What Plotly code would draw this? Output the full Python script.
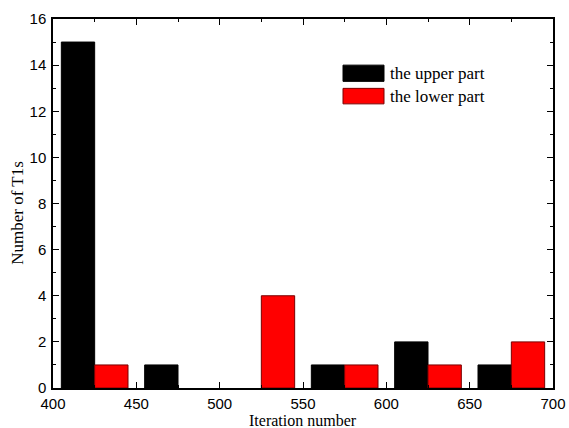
import plotly.graph_objects as go

# Data
bin_centers = [425, 475, 525, 575, 625, 675]
upper_part = [15, 1, 0, 1, 2, 1]
lower_part = [1, 0, 4, 1, 1, 2]
series_names = ["the upper part", "the lower part"]
x_ticks = [400, 450, 500, 550, 600, 650, 700]
y_ticks = [0, 2, 4, 6, 8, 10, 12, 14, 16]

colors = ["#000000", "#ff0000"]
outlines = ["#000000", "#7a0000"]

fig = go.Figure()
for name, vals, c, oc in zip(series_names, [upper_part, lower_part], colors, outlines):
    fig.add_trace(go.Bar(
        x=bin_centers, y=[v if v else None for v in vals], name=name,
        marker=dict(color=c, line=dict(color=oc, width=1)),
        showlegend=False,
    ))

tick_font = dict(family="Liberation Sans, Arial, sans-serif", size=15, color="#000")
title_font = dict(family="Liberation Serif, Times New Roman, serif", size=16, color="#000")

fig.update_layout(
    width=569, height=428,
    margin=dict(l=53, r=16, t=19, b=40),
    paper_bgcolor="white", plot_bgcolor="white",
    barmode="group", bargap=0.2, bargroupgap=0,
    xaxis=dict(
        range=[400, 700], tickvals=x_ticks, ticks="inside", ticklen=6, tickwidth=1.2,
        tickcolor="#000", showline=True, linecolor="#000", linewidth=1.5, mirror="allticks",
        showgrid=False, zeroline=False, tickfont=tick_font, automargin=False,
        ticklabelstandoff=1,
        minor=dict(ticks="inside", dtick=25, ticklen=3, tickcolor="#000", showgrid=False),
    ),
    yaxis=dict(
        range=[0, 16], tickvals=y_ticks, ticks="inside", ticklen=6, tickwidth=1.2,
        tickcolor="#000", showline=True, linecolor="#000", linewidth=1.5, mirror="allticks",
        showgrid=False, zeroline=False, tickfont=tick_font, automargin=False,
        ticklabelstandoff=2,
        minor=dict(ticks="inside", dtick=1, ticklen=3, tickcolor="#000", showgrid=False),
    ),
)

# Axis titles
fig.add_annotation(xref="paper", yref="paper", x=0.5, y=-0.087, yanchor="middle",
                   text="Iteration number", showarrow=False, font=title_font)
fig.add_annotation(xref="paper", yref="paper", x=-0.07, y=0.475, xanchor="center",
                   text="Number of T1s", textangle=-90, showarrow=False,
                   font=dict(family="Liberation Serif, Times New Roman, serif", size=17, color="#000"))

# Legend drawn as boxes + text
legend_rows = [(0.831, 0.875), (0.77, 0.812)]
for (y0, y1), name, c, oc in zip(legend_rows, series_names, colors, outlines):
    fig.add_shape(type="rect", xref="paper", yref="paper", x0=0.58, x1=0.662, y0=y0, y1=y1,
                  fillcolor=c, line=dict(color=oc, width=1))
    fig.add_annotation(xref="paper", yref="paper", x=0.67, y=(y0 + y1) / 2, text=name,
                       showarrow=False, xanchor="left", yanchor="middle",
                       font=dict(family="Liberation Serif, Times New Roman, serif", size=17, color="#000"))

fig.write_html("out.html", config={"displayModeBar": False},
               post_script="document.body.style.margin='0';document.body.style.overflow='hidden';")
